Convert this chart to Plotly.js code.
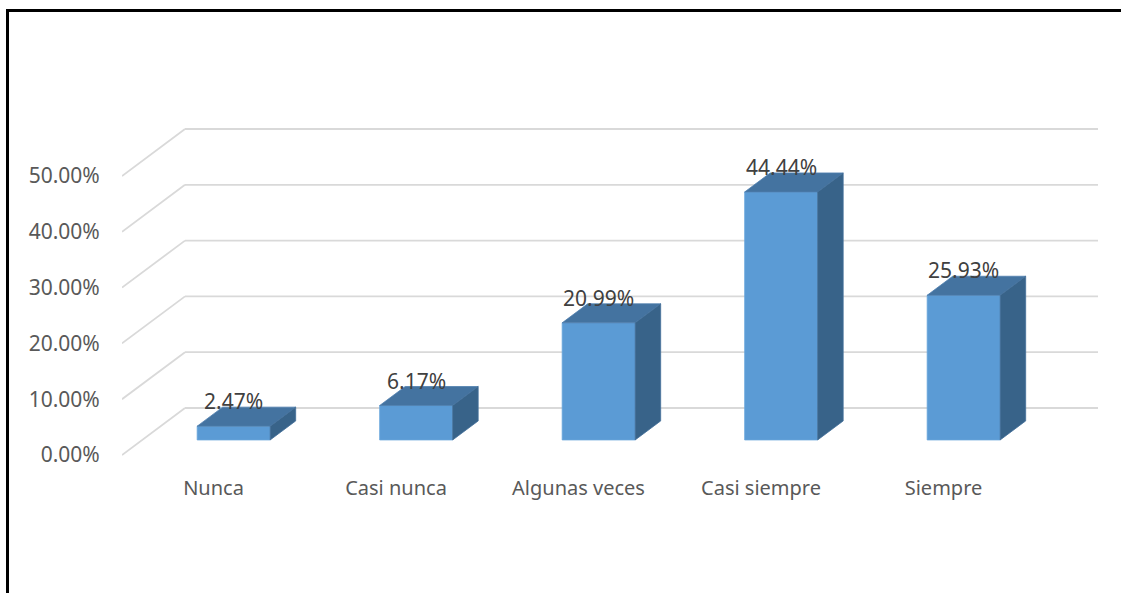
<!DOCTYPE html>
<html>
<head>
<meta charset="utf-8">
<script src="https://cdn.plot.ly/plotly-3.0.1.min.js"></script>
<style>
  html, body { margin: 0; padding: 0; background: #fff; }
  #wrap { position: relative; width: 1121px; height: 593px; overflow: hidden; }
  #chart { width: 1121px; height: 593px; }
  #frame {
    position: absolute; left: 6px; top: 9px; right: -10px; bottom: -10px;
    border-left: 3px solid #000; border-top: 3px solid #000; pointer-events: none;
  }
</style>
</head>
<body>
<div id="wrap"><div id="chart"></div><div id="frame"></div></div>
<script>
// Survey answers and their share of respondents (%)
const categories = ['Nunca', 'Casi nunca', 'Algunas veces', 'Casi siempre', 'Siempre'];
const percentages = [2.47, 6.17, 20.99, 44.44, 25.93];
const tickValues = [0, 10, 20, 30, 40, 50];
const tickLabels = ['0.00%', '10.00%', '20.00%', '30.00%', '40.00%', '50.00%'];

// ---- geometry of the pseudo-3D scene ----
const W = 1121, H = 593;
const M = { l: 122, r: 23, t: 90, b: 128 };
const pxPerCat = 182.5, pxPerPct = 5.58;
const plotW = W - M.l - M.r, plotH = H - M.t - M.b;
const xr0 = -(213.5 - M.l) / pxPerCat, xr1 = xr0 + plotW / pxPerCat;
const yr0 = -((H - M.b) - 455) / pxPerPct, yr1 = yr0 + plotH / pxPerPct;

// back wall sits 63px right and 47px up from the front plane
const wallDx = 63 / pxPerCat, wallDy = 47 / pxPerPct;
// each bar occupies this slice of the floor depth
const dFront = 0.32, dBack = 0.725;
const barW = 73 / pxPerCat;
const ox = dFront * wallDx, oy = dFront * wallDy;
const sx = (dBack - dFront) * wallDx, sy = (dBack - dFront) * wallDy;

const FRONT = '#5B9BD5', TOP = '#4473A0', SIDE = '#386389';
const FONT = 'Noto Sans, Open Sans, sans-serif';

const idx = categories.map((_, i) => i);
const traces = [];

// front faces
traces.push({
  type: 'bar',
  x: idx.map(i => i + ox),
  y: percentages,
  base: percentages.map(() => oy),
  width: barW,
  marker: { color: FRONT, line: { color: '#6AA6DC', width: 0.8 } },
  hoverinfo: 'skip',
  showlegend: false
});

// top and side faces
percentages.forEach((v, i) => {
  const x0 = i + ox - barW / 2, x1 = i + ox + barW / 2;
  const y0 = oy, y1 = oy + v;
  traces.push({
    type: 'scatter', mode: 'lines', fill: 'toself', fillcolor: TOP,
    x: [x0, x1, x1 + sx, x0 + sx, x0],
    y: [y1, y1, y1 + sy, y1 + sy, y1],
    line: { color: '#4F7FAE', width: 0.8 },
    hoverinfo: 'skip', showlegend: false
  });
  traces.push({
    type: 'scatter', mode: 'lines', fill: 'toself', fillcolor: SIDE,
    x: [x1, x1 + sx, x1 + sx, x1, x1],
    y: [y0, y0 + sy, y1 + sy, y1, y0],
    line: { color: '#44709A', width: 0.8 },
    hoverinfo: 'skip', showlegend: false
  });
});

// gridlines: slanted on the side wall, horizontal on the back wall
const shapes = [];
tickValues.forEach(t => {
  const gl = { color: '#D9D9D9', width: 1.8 };
  shapes.push({ type: 'line', layer: 'below', xref: 'x', yref: 'y',
    x0: xr0, y0: t, x1: xr0 + wallDx, y1: t + wallDy, line: gl });
  shapes.push({ type: 'line', layer: 'below', xref: 'x', yref: 'y',
    x0: xr0 + wallDx, y0: t + wallDy, x1: xr1, y1: t + wallDy, line: gl });
});

// value labels above each bar
const annotations = percentages.map((v, i) => ({
  x: i + ox, y: oy + v + sy, xref: 'x', yref: 'y',
  text: v.toFixed(2) + '%', showarrow: false, yshift: 6,
  font: { family: FONT, size: 21, color: '#404040' }
}));

const layout = {
  width: W, height: H,
  margin: M,
  paper_bgcolor: '#fff', plot_bgcolor: 'rgba(0,0,0,0)',
  showlegend: false,
  font: { family: FONT, size: 20, color: '#595959' },
  xaxis: {
    range: [xr0, xr1], fixedrange: true,
    tickvals: idx, ticktext: categories,
    showgrid: false, zeroline: false, showline: false,
    ticks: 'outside', ticklen: 5, tickcolor: 'rgba(0,0,0,0)',
    tickfont: { family: FONT, size: 20, color: '#595959' }
  },
  yaxis: {
    range: [yr0, yr1], fixedrange: true,
    tickvals: tickValues, ticktext: tickLabels,
    showgrid: false, zeroline: false, showline: false,
    ticks: 'outside', ticklen: 17, tickcolor: 'rgba(0,0,0,0)',
    tickfont: { family: FONT, size: 21, color: '#595959' }
  },
  shapes: shapes,
  annotations: annotations,
  bargap: 0
};

Plotly.newPlot('chart', traces, layout, { displayModeBar: false, staticPlot: true });
</script>
</body>
</html>
